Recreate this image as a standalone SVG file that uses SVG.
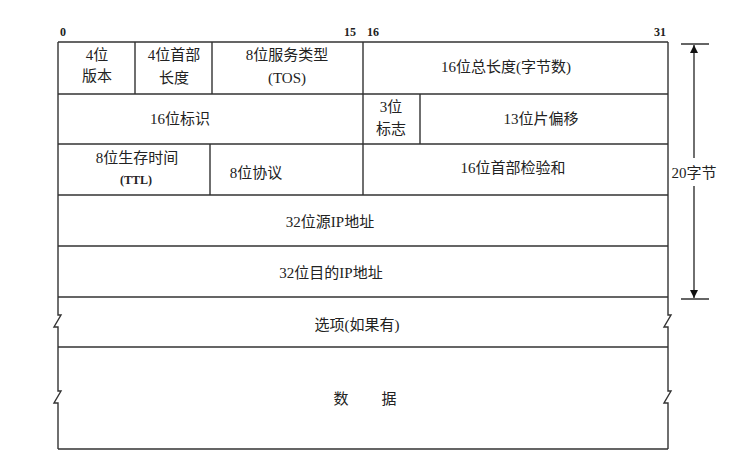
<svg xmlns="http://www.w3.org/2000/svg" width="741" height="466" viewBox="0 0 741 466">
<style>
.ln{stroke:#333;stroke-width:1.4;fill:none}
.t{font-family:"Liberation Serif","Noto Sans CJK SC",serif;font-size:15px;fill:#222;text-anchor:middle}
.n{font-family:"Liberation Serif",serif;font-size:12px;font-weight:bold;fill:#222}
</style>
<defs>
<marker id="ah" viewBox="0 0 10 10" refX="10" refY="5" markerWidth="8" markerHeight="10" orient="auto" markerUnits="userSpaceOnUse">
<path d="M0,0 L10,5 L0,10 z" fill="#111"/>
</marker>
</defs>
<rect width="741" height="466" fill="#fff"/>
<g id="bit-labels">
<text class="n" x="60" y="36">0</text>
<text class="n" x="344" y="36">15</text>
<text class="n" x="367" y="36">16</text>
<text class="n" x="654" y="36">31</text>
</g>
<g id="frame">
<path class="ln" d="M58,42 H668 M58,94 H668 M58,144 H668 M58,195 H668 M58,246 H668 M58,297 H668 M58,347 H668 M58,449 H668"/>
<path class="ln" d="M58,42 V315 L61,315 L54,327 L58,327 V391 L61,391 L54,403 L58,403 V449"/>
<path class="ln" d="M668,42 V315 L671,315 L664,327 L668,327 V391 L671,391 L664,403 L668,403 V449"/>
<path class="ln" d="M135,42 V94 M212,42 V94 M363,42 V195 M420,94 V144 M210,144 V195"/>
</g>
<g id="version"><text class="t" x="97" y="60">4位</text><text class="t" x="97" y="81">版本</text></g>
<g id="ihl"><text class="t" x="174" y="60">4位首部</text><text class="t" x="174" y="83">长度</text></g>
<g id="tos"><text class="t" x="287" y="60">8位服务类型</text><text class="t" x="287" y="83">(TOS)</text></g>
<g id="total-length"><text class="t" x="506" y="72">16位总长度(字节数)</text></g>
<g id="identification"><text class="t" x="180" y="124">16位标识</text></g>
<g id="flags"><text class="t" x="391" y="112">3位</text><text class="t" x="391" y="134">标志</text></g>
<g id="fragment-offset"><text class="t" x="541" y="124">13位片偏移</text></g>
<g id="ttl"><text class="t" x="137" y="163">8位生存时间</text><text class="t" x="136" y="184" style="font-size:12px;font-weight:bold">(TTL)</text></g>
<g id="protocol"><text class="t" x="256" y="178">8位协议</text></g>
<g id="checksum"><text class="t" x="513" y="173">16位首部检验和</text></g>
<g id="src"><text class="t" x="330" y="227">32位源IP地址</text></g>
<g id="dst"><text class="t" x="331" y="278">32位目的IP地址</text></g>
<g id="options"><text class="t" x="357" y="330">选项(如果有)</text></g>
<g id="data"><text class="t" x="341" y="404">数</text><text class="t" x="389" y="404">据</text></g>
<g id="connectors">
<path class="ln" d="M681,44 H709 M681,299 H709"/>
<path class="ln" stroke-width="1.2" d="M694,158 V45" marker-end="url(#ah)"/>
<path class="ln" stroke-width="1.2" d="M694,186 V298" marker-end="url(#ah)"/>
</g>
<g id="size-label"><text class="t" x="694" y="178">20字节</text></g>
</svg>
